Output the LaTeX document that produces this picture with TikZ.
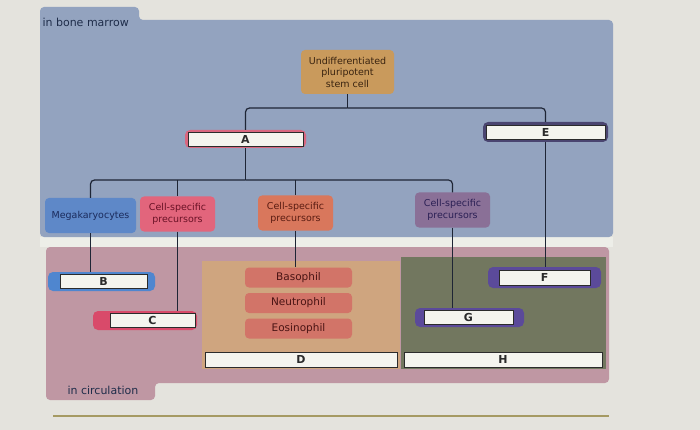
\documentclass[tikz,border=0pt]{standalone}
\usepackage{fontspec}
\setmainfont{DejaVu Sans}
\usetikzlibrary{positioning}

\definecolor{ScreenColor}{HTML}{E4E3DD}
\definecolor{StripColor}{HTML}{EDEEE8}
\definecolor{MarrowColor}{HTML}{93A3BF}
\definecolor{BloodColor}{HTML}{BF97A3}
\definecolor{GranuloColor}{HTML}{CFA57F}
\definecolor{LymphoColor}{HTML}{72775F}
\definecolor{StemColor}{HTML}{C99A5C}
\definecolor{MegaColor}{HTML}{5E88C8}
\definecolor{RedPreColor}{HTML}{E2657C}
\definecolor{OrangePreColor}{HTML}{D9775C}
\definecolor{PurplePreColor}{HTML}{8A7097}
\definecolor{CellColor}{HTML}{D27468}
\definecolor{SlotColor}{HTML}{F4F4EE}
\definecolor{SlotBorder}{HTML}{2B2B2B}
\definecolor{LineColor}{HTML}{1E2535}
\definecolor{RuleColor}{HTML}{A59A63}
\definecolor{PanelText}{HTML}{1F2D4A}
\definecolor{StemText}{HTML}{3A2410}
\definecolor{MegaText}{HTML}{1B2B5C}
\definecolor{RedPreText}{HTML}{6A1226}
\definecolor{OrangePreText}{HTML}{5A1C12}
\definecolor{PurplePreText}{HTML}{2B2055}
\definecolor{CellText}{HTML}{4A1414}
\definecolor{FrameA}{HTML}{D9667F}
\definecolor{FrameE}{HTML}{4A4570}
\definecolor{FrameB}{HTML}{4F86CF}
\definecolor{FrameC}{HTML}{D94A6A}
\definecolor{FrameFG}{HTML}{5B4A9A}

\tikzstyle{cell-base}=[rectangle,
                       rounded corners=4pt,
                       text centered,
                       align=center,
                       inner sep=1pt,
                       font=\fontsize{9.5}{11.5}\selectfont
                      ]
\tikzstyle{stem-cell}=[cell-base,
                       fill={StemColor},
                       text={StemText},
                       minimum width=93pt,
                       minimum height=44pt]
\tikzstyle{precursor}=[cell-base,
                       minimum width=75pt,
                       minimum height=35pt]
\tikzstyle{mature}=[cell-base,
                    fill={CellColor},
                    text={CellText},
                    minimum width=107pt,
                    minimum height=20pt,
                    font=\fontsize{10.5}{12}\selectfont]
\tikzstyle{slot-frame}=[rectangle, rounded corners=5pt, inner sep=0pt]
\tikzstyle{slot}=[rectangle,
                  draw={SlotBorder},
                  line width=0.8pt,
                  fill={SlotColor},
                  text={SlotBorder},
                  inner sep=0pt,
                  minimum height=14pt,
                  font=\fontsize{11}{11}\selectfont\bfseries]
\tikzstyle{link-line}=[draw={LineColor}, line width=1.2pt, rounded corners=4pt]
\tikzstyle{panel-label}=[anchor=west, text={PanelText}, font=\fontsize{11}{13}\selectfont]

\begin{document}
\begin{tikzpicture}[x=1pt, y=-1pt]
    \useasboundingbox (0,0) rectangle (700,430);
    \fill[ScreenColor] (0,0) rectangle (700,430);
    \fill[StripColor]  (40,237) rectangle (613,247);

    % Panels
    % --------------------------------------------------------------------------
    \fill[MarrowColor, rounded corners=4pt]
        (40,7) -- (139,7) -- (139,20) -- (613,20) -- (613,237) -- (40,237) -- cycle;
    \fill[BloodColor, rounded corners=4pt]
        (46,247) -- (609,247) -- (609,383) -- (155,383) -- (155,400) -- (46,400) -- cycle;
    \fill[GranuloColor] (202,261) rectangle (400,369);
    \fill[LymphoColor]  (401,257) rectangle (606,369);
    \draw[RuleColor, line width=2pt] (53,416) -- (609,416);

    \node at ( 39,  22) (marrow_text)      [panel-label] {in bone marrow};
    \node at ( 64, 390) (circulation_text) [panel-label] {in circulation};

    % Cells
    % --------------------------------------------------------------------------
    \node at (347.5,  72) (stem_cell) [stem-cell] {Undifferentiated\\pluripotent\\stem cell};

    \node at ( 90.5, 215.5) (megakaryocytes)    [precursor, fill={MegaColor}, text={MegaText},
                                                 minimum width=91pt] {Megakaryocytes};
    \node at (177.5, 214)   (red_precursors)    [precursor, fill={RedPreColor}, text={RedPreText}]
                                                {Cell-specific\\precursors};
    \node at (295.5, 213)   (orange_precursors) [precursor, fill={OrangePreColor}, text={OrangePreText}]
                                                {Cell-specific\\precursors};
    \node at (452.5, 210)   (purple_precursors) [precursor, fill={PurplePreColor}, text={PurplePreText}]
                                                {Cell-specific\\precursors};

    \node at (298.5, 277.5) (basophil)   [mature] {Basophil};
    \node at (298.5, 303)   (neutrophil) [mature] {Neutrophil};
    \node at (298.5, 328.5) (eosinophil) [mature] {Eosinophil};

    % Answer slots
    % --------------------------------------------------------------------------
    \node at (245.5, 139)   (frame_a) [slot-frame, fill={FrameA}, minimum width=121pt, minimum height=18pt] {};
    \node at (245.5, 139.5) (slot_a)  [slot, minimum width=115pt] {A};

    \node at (545.5, 132)   (frame_e) [slot-frame, fill={FrameE}, minimum width=125pt, minimum height=20pt] {};
    \node at (545.5, 132)   (slot_e)  [slot, minimum width=119pt] {E};

    \node at (101.5, 281.5) (frame_b) [slot-frame, fill={FrameB}, minimum width=107pt, minimum height=19pt] {};
    \node at (103.5, 281.5) (slot_b)  [slot, minimum width=87pt] {B};

    \node at (145,   320.5) (frame_c) [slot-frame, fill={FrameC}, minimum width=104pt, minimum height=19pt] {};
    \node at (152.5, 320.5) (slot_c)  [slot, minimum width=85pt] {C};

    \node at (544.5, 277.5) (frame_f) [slot-frame, fill={FrameFG}, minimum width=113pt, minimum height=21pt] {};
    \node at (544.5, 277.5) (slot_f)  [slot, minimum width=91pt, minimum height=15pt] {F};

    \node at (469.5, 317.5) (frame_g) [slot-frame, fill={FrameFG}, minimum width=109pt, minimum height=19pt] {};
    \node at (468.5, 317.5) (slot_g)  [slot, minimum width=89pt] {G};

    \node at (301,   359.5) (slot_d)  [slot, minimum width=192pt, minimum height=15pt] {D};
    \node at (503,   359.5) (slot_h)  [slot, minimum width=198pt, minimum height=15pt] {H};

    % Lines
    % --------------------------------------------------------------------------
    \coordinate (top_split) at (347.5, 108);
    \coordinate (mid_split) at (245.5, 180);

    \draw[link-line] (stem_cell.south) -- (top_split);
    \draw[link-line] (top_split) -| (frame_a.north);
    \draw[link-line] (top_split) -| (frame_e.north);

    \draw[link-line] (frame_a.south) -- (mid_split);
    \draw[link-line] (mid_split) -| (megakaryocytes.north);
    \draw[link-line] (mid_split) -| (purple_precursors.north);
    \draw[link-line] (red_precursors.north |- mid_split)    -- (red_precursors.north);
    \draw[link-line] (orange_precursors.north |- mid_split) -- (orange_precursors.north);

    \draw[link-line] (megakaryocytes.south)    -- (megakaryocytes.south |- frame_b.north);
    \draw[link-line] (red_precursors.south)    -- (red_precursors.south |- frame_c.north);
    \draw[link-line] (orange_precursors.south) -- (orange_precursors.south |- basophil.north);
    \draw[link-line] (purple_precursors.south) -- (purple_precursors.south |- frame_g.north);
    \draw[link-line] (frame_e.south)           -- (frame_e.south |- frame_f.north);
\end{tikzpicture}
\end{document}
